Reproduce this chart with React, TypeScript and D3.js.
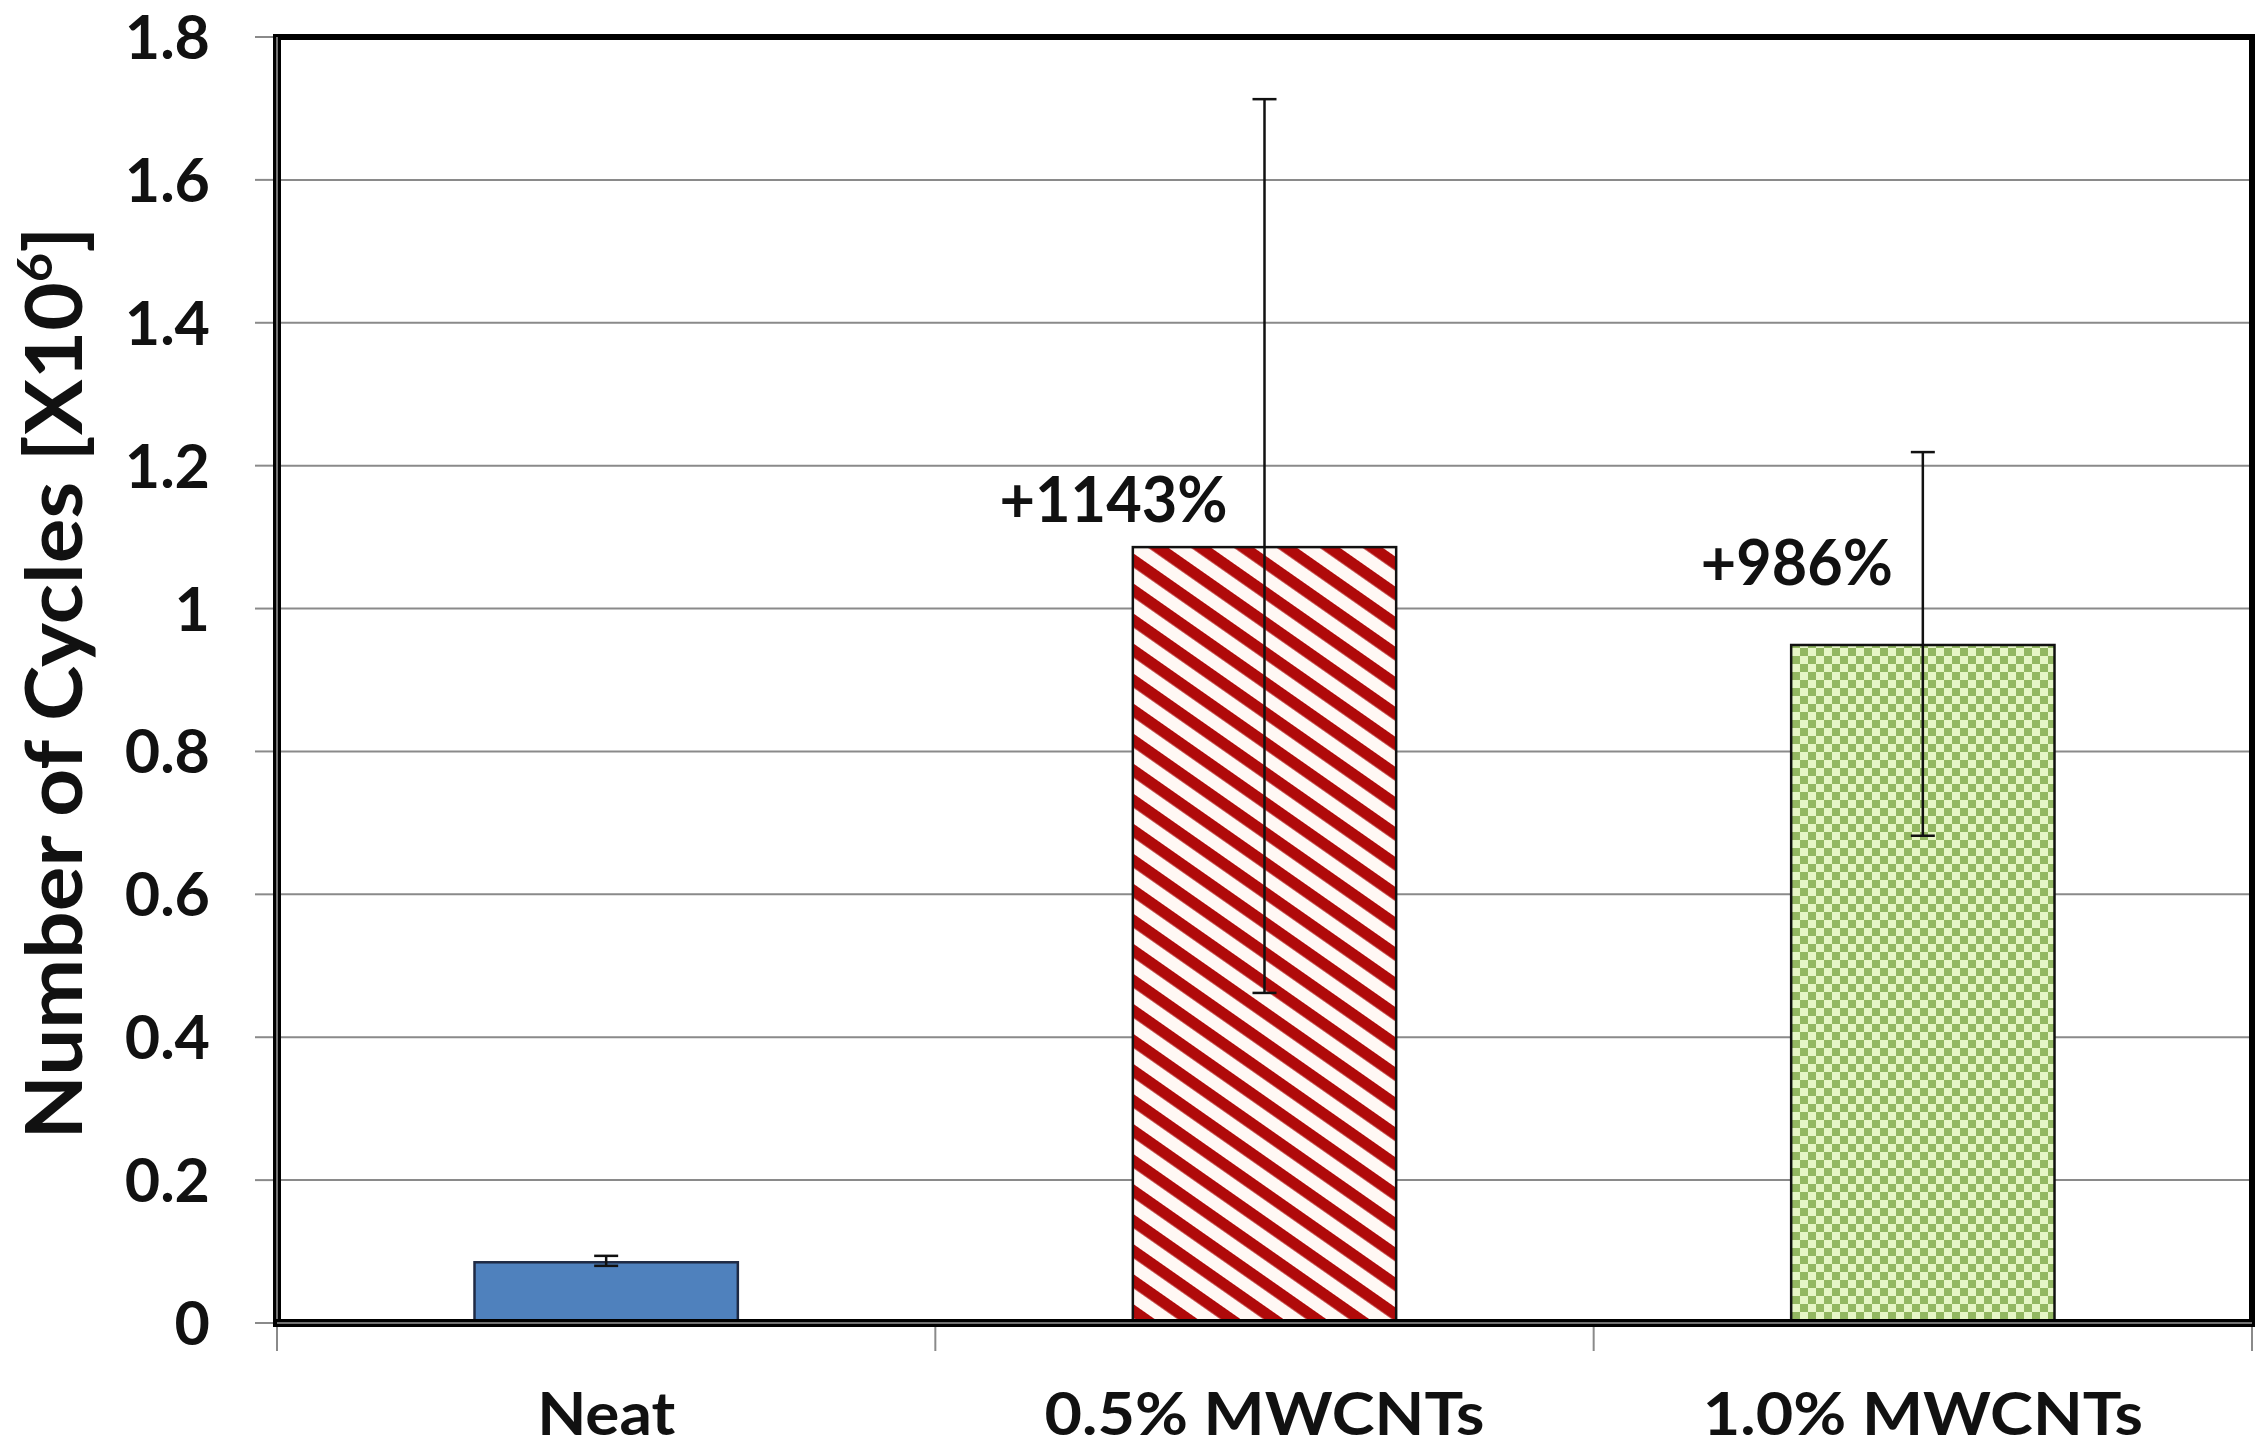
import React from "react";
import * as d3 from "d3";

const categories = ["Neat", "0.5% MWCNTs", "1.0% MWCNTs"];
const values = [0.085, 1.086, 0.949];
const errPlus = [0.009, 0.627, 0.27];
const errMinus = [0.005, 0.624, 0.267];
const labels = ["", "+1143%", "+986%"];
const yTicks = [0, 0.2, 0.4, 0.6, 0.8, 1, 1.2, 1.4, 1.6, 1.8];
const yTickLabels = ["0", "0.2", "0.4", "0.6", "0.8", "1", "1.2", "1.4", "1.6", "1.8"];

const W = 2265;
const H = 1449;
const L = 277, R = 2252, T = 37, B = 1323;
const FONT = "Lato, 'Open Sans', 'Liberation Sans', sans-serif";

export default function App() {
  const x = d3.scaleBand<string>().domain(categories).range([L, R]).paddingInner(0.6).paddingOuter(0.3);
  const y = d3.scaleLinear().domain([0, 1.8]).range([B, T]);
  const step = x.step();
  const bw = x.bandwidth();
  const fills = ["#4f81bd", "url(#redStripes)", "url(#greenChecks)"];
  const strokes = ["#1f2a44", "#111", "#111"];
  const labelOffsets = [
    { dx: 0, dy: 0, len: 0 },
    { dx: -151, dy: -25, len: 228 },
    { dx: -126, dy: -60, len: 192 },
  ];
  const xLabelLen = [138, 440, 440];

  return (
    <div style={{ position: "absolute", left: 0, top: 0 }}>
      <svg width={W} height={H} viewBox={`0 0 ${W} ${H}`} style={{ display: "block", background: "#fff" }}>
        <defs>
          <pattern id="redStripes" patternUnits="userSpaceOnUse" width={40} height={24.6} patternTransform="rotate(35)">
            <rect width={40} height={24.6} fill="#fff8f4" />
            <rect y={0} width={40} height={11.5} fill="#b00a0a" />
          </pattern>
          <pattern id="greenChecks" patternUnits="userSpaceOnUse" width={16} height={16}>
            <rect width={16} height={16} fill="#e6f6c6" />
            <rect x={0} y={0} width={8} height={8} fill="#93b862" />
            <rect x={8} y={8} width={8} height={8} fill="#93b862" />
          </pattern>
        </defs>

        {/* gridlines */}
        {yTicks.filter((t) => t > 0 && t < 1.8).map((t) => (
          <line key={"g" + t} x1={L} x2={R} y1={y(t)} y2={y(t)} stroke="#8a8a8a" strokeWidth={2} />
        ))}

        {/* y tick marks */}
        {yTicks.map((t) => (
          <line key={"yt" + t} x1={255} x2={L} y1={y(t)} y2={y(t)} stroke="#8a8a8a" strokeWidth={2} />
        ))}

        {/* x tick marks */}
        {d3.range(categories.length + 1).map((i) => (
          <line key={"xt" + i} x1={L + i * step} x2={L + i * step} y1={B} y2={B + 28} stroke="#8a8a8a" strokeWidth={2} />
        ))}

        {/* bars */}
        {categories.map((c, i) => (
          <rect
            key={c}
            x={x(c)}
            y={y(values[i])}
            width={bw}
            height={y(0) - y(values[i])}
            fill={fills[i]}
            stroke={strokes[i]}
            strokeWidth={2.5}
          />
        ))}

        {/* error bars */}
        {categories.map((c, i) => {
          const cx = (x(c) as number) + bw / 2;
          const y1 = y(values[i] + errPlus[i]);
          const y2 = y(values[i] - errMinus[i]);
          return (
            <g key={"e" + c} stroke="#111" strokeWidth={2.5}>
              <line x1={cx} x2={cx} y1={y1} y2={y2} />
              <line x1={cx - 12} x2={cx + 12} y1={y1} y2={y1} />
              <line x1={cx - 12} x2={cx + 12} y1={y2} y2={y2} />
            </g>
          );
        })}

        {/* frame */}
        <line x1={L} x2={R + 3} y1={T} y2={T} stroke="#000" strokeWidth={6} />
        <line x1={R} x2={R} y1={T} y2={B} stroke="#000" strokeWidth={6} />
        <line x1={L} x2={L} y1={T - 3} y2={B + 4} stroke="#000" strokeWidth={8} />
        <line x1={L} x2={L} y1={T} y2={B} stroke="#999" strokeWidth={1.5} />
        <line x1={L - 4} x2={R + 3} y1={B} y2={B} stroke="#000" strokeWidth={8} />
        <line x1={L} x2={R} y1={B} y2={B} stroke="#999" strokeWidth={1.5} />

        {/* data labels */}
        {categories.map((c, i) =>
          labels[i] ? (
            <text
              key={"l" + c}
              x={(x(c) as number) + bw / 2 + labelOffsets[i].dx}
              y={y(values[i]) + labelOffsets[i].dy}
              textAnchor="middle"
              fontFamily={FONT}
              fontWeight={700}
              fontSize={64}
              fill="#111"
              textLength={labelOffsets[i].len}
              lengthAdjust="spacingAndGlyphs"
            >
              {labels[i]}
            </text>
          ) : null
        )}

        {/* y tick labels */}
        {yTicks.map((t, i) => (
          <text
            key={"yl" + t}
            x={210}
            y={y(t) + 22}
            textAnchor="end"
            fontFamily={FONT}
            fontWeight={700}
            fontSize={61}
            fill="#111"
          >
            {yTickLabels[i]}
          </text>
        ))}

        {/* x labels */}
        {categories.map((c, i) => (
          <text
            key={"xl" + c}
            x={(x(c) as number) + bw / 2}
            y={1435}
            textAnchor="middle"
            fontFamily={FONT}
            fontWeight={700}
            fontSize={60}
            fill="#111"
            textLength={xLabelLen[i]}
            lengthAdjust="spacingAndGlyphs"
          >
            {c}
          </text>
        ))}

        {/* y axis title */}
        <text
          transform={`translate(82, 683) rotate(-90)`}
          textAnchor="middle"
          fontFamily={FONT}
          fontWeight={700}
          fontSize={79}
          fill="#111"
          textLength={913}
          lengthAdjust="spacingAndGlyphs"
        >
          Number of Cycles [X10<tspan fontSize={48} dy={-30}>6</tspan><tspan dy={30}>]</tspan>
        </text>
      </svg>
    </div>
  );
}
